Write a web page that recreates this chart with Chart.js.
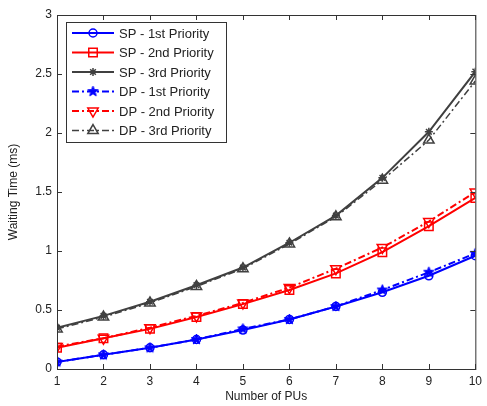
<!DOCTYPE html>
<html>
<head>
<meta charset="utf-8">
<script src="https://cdn.jsdelivr.net/npm/chart.js@4/dist/chart.umd.min.js"></script>
<style>
  html, body { margin: 0; padding: 0; background: #fff; }
  #wrap { width: 487px; height: 406px; }
</style>
</head>
<body>
<div id="wrap"><canvas id="waiting-time"></canvas></div>
<script>
// Data

const pus = [1, 2, 3, 4, 5, 6, 7, 8, 9, 10];
const yTicks = [0, 0.5, 1, 1.5, 2, 2.5, 3];

const sp1 = [0.06, 0.12, 0.18, 0.25, 0.33, 0.42, 0.53, 0.65, 0.79, 0.96];
const sp2 = [0.18, 0.26, 0.34, 0.44, 0.55, 0.67, 0.81, 0.99, 1.21, 1.45];
const sp3 = [0.35, 0.45, 0.57, 0.71, 0.86, 1.07, 1.30, 1.62, 2.01, 2.52];
const dp1 = [0.06, 0.12, 0.18, 0.25, 0.34, 0.42, 0.53, 0.67, 0.82, 0.98];
const dp2 = [0.19, 0.26, 0.35, 0.45, 0.56, 0.69, 0.85, 1.03, 1.25, 1.50];
const dp3 = [0.34, 0.44, 0.56, 0.70, 0.85, 1.06, 1.29, 1.60, 1.94, 2.44];

const BLUE = "#0000ff";
const RED = "#ff0000";
const GREY = "#404040";
const dashDot = [7, 3, 2, 3];

// filled pentagram marker (matlab 'p')
function pentagram(color, r) {
  const c = document.createElement("canvas");
  const s = Math.ceil(r * 2 + 4);
  c.width = s;
  c.height = s;
  const g = c.getContext("2d");
  g.beginPath();
  for (let i = 0; i < 10; i++) {
    const rad = i % 2 === 0 ? r : r * 0.42;
    const a = -Math.PI / 2 + (i * Math.PI) / 5;
    const x = s / 2 + rad * Math.cos(a);
    const y = s / 2 + rad * Math.sin(a);
    if (i === 0) g.moveTo(x, y);
    else g.lineTo(x, y);
  }
  g.closePath();
  g.fillStyle = color;
  g.fill();
  g.strokeStyle = color;
  g.lineWidth = 1;
  g.stroke();
  return c;
}

const starBlue = pentagram(BLUE, 5.5);

const canvas = document.getElementById("waiting-time");

const datasets = [
  {
    label: "SP - 1st Priority",
    data: sp1,
    borderColor: BLUE,
    backgroundColor: "transparent",
    borderWidth: 2,
    pointStyle: "circle",
    pointRadius: 4,
    pointBorderWidth: 1.5,
  },
  {
    label: "SP - 2nd Priority",
    data: sp2,
    borderColor: RED,
    backgroundColor: "transparent",
    borderWidth: 2,
    pointStyle: "rect",
    pointRadius: 6,
    pointBorderWidth: 1.5,
  },
  {
    label: "SP - 3rd Priority",
    data: sp3,
    borderColor: GREY,
    backgroundColor: GREY,
    borderWidth: 2,
    pointStyle: "star",
    pointRadius: 4,
    pointBorderWidth: 1.5,
  },
  {
    label: "DP - 1st Priority",
    data: dp1,
    borderColor: BLUE,
    backgroundColor: BLUE,
    borderWidth: 2,
    borderDash: dashDot,
    pointStyle: starBlue,
  },
  {
    label: "DP - 2nd Priority",
    data: dp2,
    borderColor: RED,
    backgroundColor: "transparent",
    borderWidth: 2,
    borderDash: dashDot,
    pointStyle: "triangle",
    rotation: 180,
    pointRadius: 6,
    pointBorderWidth: 1.5,
  },
  {
    label: "DP - 3rd Priority",
    data: dp3,
    borderColor: GREY,
    backgroundColor: "transparent",
    borderWidth: 1.5,
    borderDash: dashDot,
    pointStyle: "triangle",
    pointRadius: 6,
    pointBorderWidth: 1.5,
  },
];

// box + inward ticks like matlab
const boxPlugin = {
  id: "box",
  afterDraw(chart) {
    const { ctx, chartArea: a, scales } = chart;
    ctx.save();
    ctx.strokeStyle = "#333";
    ctx.lineWidth = 1;
    ctx.strokeRect(a.left + 0.5, a.top + 0.5, a.right - a.left, a.bottom - a.top);
    ctx.beginPath();
    const tl = 5;
    pus.forEach((v) => {
      const x = Math.round(scales.x.getPixelForValue(v)) + 0.5;
      ctx.moveTo(x, a.bottom);
      ctx.lineTo(x, a.bottom - tl);
      ctx.moveTo(x, a.top);
      ctx.lineTo(x, a.top + tl);
    });
    yTicks.forEach((v) => {
      const y = Math.round(scales.y.getPixelForValue(v)) + 0.5;
      ctx.moveTo(a.left, y);
      ctx.lineTo(a.left + tl, y);
      ctx.moveTo(a.right, y);
      ctx.lineTo(a.right - tl, y);
    });
    ctx.stroke();
    ctx.restore();
  },
};

// legend drawn inside the plot, top-left
const insideLegend = {
  id: "insideLegend",
  afterDraw(chart) {
    const { ctx } = chart;
    const x0 = 66, y0 = 22, w = 160, h = 120, rowH = 19.5;
    ctx.save();
    ctx.fillStyle = "#fff";
    ctx.fillRect(x0, y0, w, h);
    ctx.strokeStyle = "#333";
    ctx.lineWidth = 1;
    ctx.strokeRect(x0 + 0.5, y0 + 0.5, w, h);
    ctx.font = "13px 'Liberation Sans', Arial, sans-serif";
    ctx.textBaseline = "middle";
    chart.data.datasets.forEach((ds, i) => {
      const y = y0 + 11 + i * rowH;
      ctx.strokeStyle = ds.borderColor;
      ctx.lineWidth = ds.borderWidth;
      ctx.setLineDash(ds.borderDash || []);
      ctx.beginPath();
      ctx.moveTo(x0 + 6, y);
      ctx.lineTo(x0 + 48, y);
      ctx.stroke();
      ctx.setLineDash([]);
      ctx.fillStyle = ds.backgroundColor;
      ctx.lineWidth = ds.pointBorderWidth || 1;
      Chart.helpers.drawPoint(
        ctx,
        {
          pointStyle: ds.pointStyle,
          rotation: ds.rotation || 0,
          radius: ds.pointRadius || 5,
          borderWidth: ds.pointBorderWidth || 1,
        },
        x0 + 27,
        y
      );
      ctx.fillStyle = "#222";
      ctx.fillText(ds.label, x0 + 53, y + 1);
    });
    ctx.restore();
  },
};

const tickFont = { family: "'Liberation Sans', Arial, sans-serif", size: 12 };

new Chart(canvas, {
  type: "line",
  data: { labels: pus, datasets: datasets },
  plugins: [boxPlugin, insideLegend],
  options: {
    responsive: true,
    maintainAspectRatio: false,
    animation: false,
    layout: { padding: { top: 15, right: 9, left: 0, bottom: 0 } },
    plugins: {
      legend: { display: false },
      tooltip: { enabled: false },
    },
    scales: {
      x: {
        type: "linear",
        min: 1,
        max: 10,
        afterBuildTicks: (scale) => {
          scale.ticks = pus.map((v) => ({ value: v }));
        },
        afterFit: (scale) => {
          scale.height = 37;
        },
        grid: { display: false, drawTicks: false },
        border: { display: false },
        ticks: { color: "#222", font: tickFont, padding: 5, maxRotation: 0 },
        title: {
          display: true,
          text: "Number of PUs",
          color: "#222",
          font: tickFont,
          padding: { top: 0, bottom: 2 },
        },
      },
      y: {
        min: 0,
        max: 3,
        afterBuildTicks: (scale) => {
          scale.ticks = yTicks.map((v) => ({ value: v }));
        },
        afterFit: (scale) => {
          scale.width = 57;
        },
        grid: { display: false, drawTicks: false },
        border: { display: false },
        ticks: {
          color: "#222",
          font: tickFont,
          padding: 5,
          callback: (v) => String(v),
        },
        title: {
          display: true,
          text: "Waiting Time (ms)",
          color: "#222",
          font: tickFont,
          padding: { top: 6, bottom: 0 },
        },
      },
    },
  },
});
</script>
</body>
</html>
